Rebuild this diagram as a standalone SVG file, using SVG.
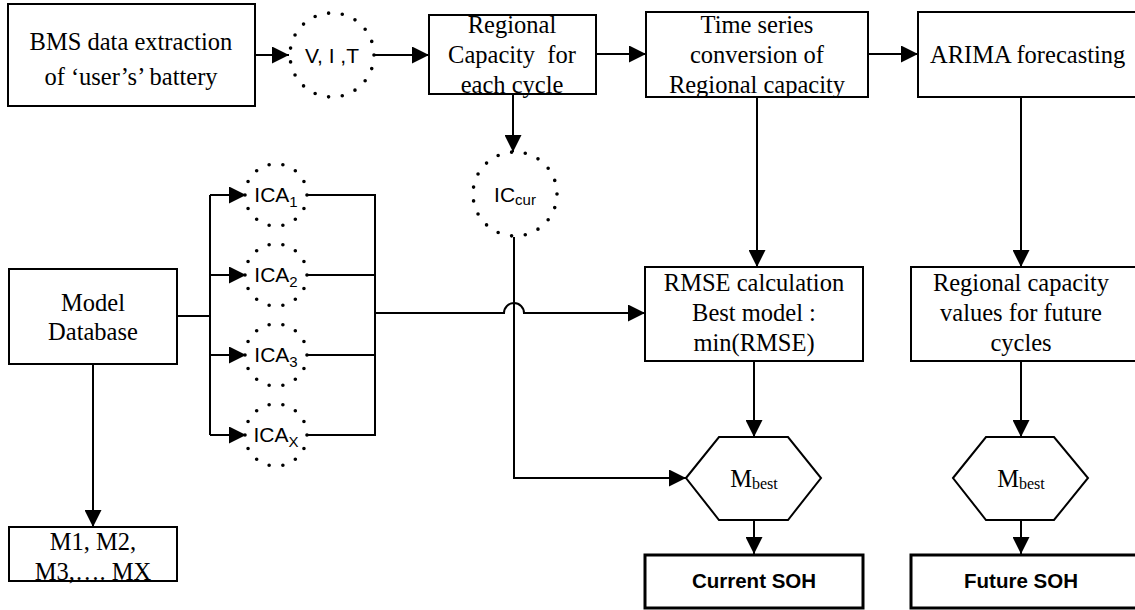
<svg xmlns="http://www.w3.org/2000/svg" width="1135" height="610" viewBox="0 0 1135 610">
<defs>
<marker id="ah" markerUnits="userSpaceOnUse" markerWidth="17" markerHeight="17" refX="17" refY="8.5" orient="auto">
<path d="M0,0 L17,8.5 L0,17 z" fill="#000"/>
</marker>
<style>
.box{fill:#fff;stroke:#000;stroke-width:2}
.tbox{fill:#fff;stroke:#000;stroke-width:3}
.dot{fill:none;stroke:#000;stroke-width:3.6;stroke-linecap:round;stroke-dasharray:0 1}
.ln{fill:none;stroke:#000;stroke-width:2}
.ar{fill:none;stroke:#000;stroke-width:2;marker-end:url(#ah)}
.serif{font-family:"Liberation Serif","Times New Roman",serif;font-size:24.5px;fill:#000;text-anchor:middle}
.serifl{font-family:"Liberation Serif","Times New Roman",serif;font-size:24.5px;fill:#000;text-anchor:start}
.sans{font-family:"Liberation Sans",Arial,sans-serif;font-size:21px;fill:#000;text-anchor:middle}
.bold{font-family:"Liberation Sans",Arial,sans-serif;font-size:20.5px;font-weight:bold;fill:#000;text-anchor:middle}
</style>
</defs>
<rect width="1135" height="610" fill="#fff"/>
<g id="connectors">
<line class="ar" x1="255" y1="55" x2="289" y2="55"/>
<line class="ar" x1="374" y1="55" x2="429" y2="55"/>
<line class="ar" x1="596" y1="54" x2="646" y2="54"/>
<line class="ar" x1="868" y1="54" x2="918" y2="54"/>
<path class="ar" d="M513,94 V152"/>
<path class="ar" d="M757,97 V267"/>
<path class="ar" d="M1021,97 V267"/>
<path class="ar" d="M754,361 V437"/>
<path class="ar" d="M1021,361 V437"/>
<path class="ar" d="M754,520 V554"/>
<path class="ar" d="M1021,520 V554"/>
<path class="ar" d="M93,364 V527"/>
<path class="ln" d="M177,316 H210"/>
<path class="ln" d="M210,195 V435"/>
<path class="ar" d="M210,195 H246"/>
<path class="ar" d="M210,275 H246"/>
<path class="ar" d="M210,355 H246"/>
<path class="ar" d="M210,435 H246"/>
<path class="ln" d="M307,195 H375 V435 H307 M307,275 H375 M307,355 H375"/>
<path class="ar" d="M375,313 H504 A10,10 0 0 1 524,313 H645"/>
<path class="ar" d="M514,237 V478 H686"/>
</g>
<g id="bms">
<rect class="box" x="8" y="4" width="247" height="102"/>
<text class="serif" x="131" y="50">BMS data extraction</text>
<text class="serif" x="131" y="85">of ‘user’s’ battery</text>
</g>
<g id="vit">
<circle class="dot" cx="332" cy="55" r="42" pathLength="19"/>
<text class="sans" x="332" y="63" font-size="22">V, I ,T</text>
</g>
<g id="regional">
<rect class="box" x="429" y="15" width="167" height="79"/>
<text class="serif" x="512" y="33">Regional</text>
<text class="serif" x="512" y="63" xml:space="preserve">Capacity  for</text>
<text class="serif" x="512" y="93">each cycle</text>
</g>
<g id="timeseries">
<rect class="box" x="646" y="12" width="222" height="85"/>
<text class="serif" x="757" y="33">Time series</text>
<text class="serif" x="757" y="63">conversion of</text>
<text class="serif" x="757" y="93">Regional capacity</text>
</g>
<g id="arima">
<rect class="box" x="918" y="12" width="230" height="85"/>
<text class="serifl" x="930" y="63">ARIMA forecasting</text>
</g>
<g id="iccur">
<circle class="dot" cx="515" cy="194" r="42" pathLength="19"/>
<text class="sans" x="515" y="202">IC<tspan font-size="15" dy="3">cur</tspan></text>
</g>
<g id="ica1">
<circle class="dot" cx="276" cy="195" r="31" pathLength="14"/>
<text class="sans" x="276" y="202">ICA<tspan font-size="15" dy="5">1</tspan></text>
</g>
<g id="ica2">
<circle class="dot" cx="276" cy="275" r="31" pathLength="14"/>
<text class="sans" x="276" y="282">ICA<tspan font-size="15" dy="5">2</tspan></text>
</g>
<g id="ica3">
<circle class="dot" cx="276" cy="355" r="31" pathLength="14"/>
<text class="sans" x="276" y="362">ICA<tspan font-size="15" dy="5">3</tspan></text>
</g>
<g id="icax">
<circle class="dot" cx="276" cy="435" r="31" pathLength="14"/>
<text class="sans" x="276" y="442">ICA<tspan font-size="15" dy="5">X</tspan></text>
</g>
<g id="modeldb">
<rect class="box" x="9" y="269" width="168" height="95"/>
<text class="serif" x="93" y="311">Model</text>
<text class="serif" x="93" y="340">Database</text>
</g>
<g id="models">
<rect class="box" x="9" y="527" width="168" height="54"/>
<text class="serif" x="93" y="550">M1, M2,</text>
<text class="serif" x="93" y="580">M3,…. MX</text>
</g>
<g id="rmse">
<rect class="box" x="645" y="267" width="218" height="94"/>
<text class="serif" x="754" y="291">RMSE calculation</text>
<text class="serif" x="754" y="321">Best model :</text>
<text class="serif" x="754" y="351">min(RMSE)</text>
</g>
<g id="futurevals">
<rect class="box" x="911" y="267" width="240" height="94"/>
<text class="serif" x="1021" y="291">Regional capacity</text>
<text class="serif" x="1021" y="321">values for future</text>
<text class="serif" x="1021" y="351">cycles</text>
</g>
<g id="mbest1">
<polygon class="box" points="686,478 719,437 788,437 821,478 788,520 719,520"/>
<text class="serif" x="754" y="487" font-size="26">M<tspan font-size="16" dy="2">best</tspan></text>
</g>
<g id="mbest2">
<polygon class="box" points="953,478 986,437 1054,437 1088,478 1054,520 986,520"/>
<text class="serif" x="1021" y="487" font-size="26">M<tspan font-size="16" dy="2">best</tspan></text>
</g>
<g id="currentsoh">
<rect class="tbox" x="645" y="555" width="218" height="53"/>
<text class="bold" x="754" y="588">Current SOH</text>
</g>
<g id="futuresoh">
<rect class="tbox" x="911" y="555" width="240" height="53"/>
<text class="bold" x="1021" y="588">Future SOH</text>
</g>
</svg>
